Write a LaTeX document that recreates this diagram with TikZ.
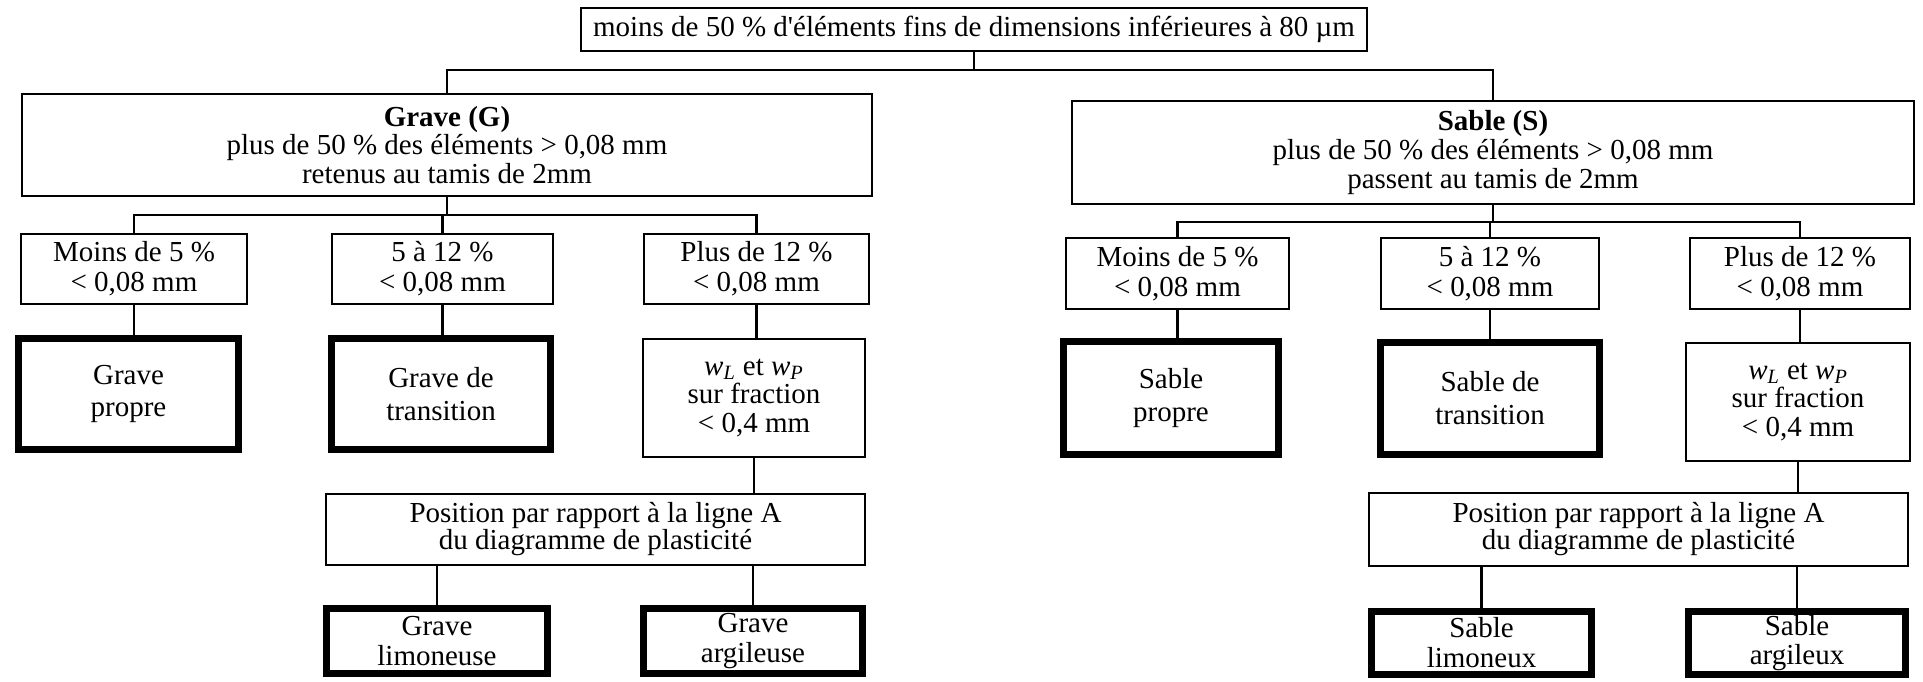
\documentclass[tikz,border=0pt]{standalone}
\usepackage{fontspec}
\setmainfont{Liberation Serif}
\begin{document}
\begin{tikzpicture}[x=0.02cm, y=-0.02cm,
  box/.style={draw, line width=1.3pt, align=center, inner sep=0pt,
              font=\fontsize{16.5}{16.4}\selectfont},
  tbox/.style={box, line width=4pt},
  sz/.style n args={2}{minimum width={(#1-2.3)*0.02cm}, minimum height={(#2-2.3)*0.02cm}},
  tsz/.style n args={2}{minimum width={(#1-7)*0.02cm}, minimum height={(#2-7)*0.02cm}},
  conn/.style={line width=1.2pt}]
\useasboundingbox (0,0) rectangle (1923,682);

% top
\node[box, sz={788}{45}] (top) at (974,29.5)
  {moins de 50 \% d\textquotesingle éléments fins de dimensions inférieures à 80 µm};

% level 1
\node[box, sz={852}{104}] (grave) at (447,145)
  {\textbf{Grave (G)}\\plus de 50 \% des éléments > 0,08 mm\\retenus au tamis de 2mm};
\node[box, sz={844}{105}] (sable) at (1493,152.5)
  {\textbf{Sable (S)}\\plus de 50 \% des éléments > 0,08 mm\\passent au tamis de 2mm};

% Grave children
\node[box, sz={228}{72}] (gm) at (134,269) {Moins de 5 \%\\[0.6pt]< 0,08 mm};
\node[box, sz={223}{72}] (gt) at (442.5,269) {5 à 12 \%\\[0.6pt]< 0,08 mm};
\node[box, sz={227}{72}] (gp) at (756.5,269) {Plus de 12 \%\\[0.6pt]< 0,08 mm};

\node[tbox, tsz={227}{118}] (gpr) at (128.5,394) {Grave\\[2.3pt]propre};
\node[tbox, tsz={226}{118}] (gtr) at (441,394) {Grave de\\[2.3pt]transition};
\node[box, sz={224}{120}] (gw) at (754,398)
  {\textit{w}\textsubscript{\textit{L}} et \textit{w}\textsubscript{\textit{P}}\\sur fraction\\< 0,4 mm};

\node[box, sz={541}{73}] (gpos) at (595.5,529.5)
  {Position par rapport à la ligne A\\[-1pt]du diagramme de plasticité};

\node[tbox, tsz={228}{72}] (glim) at (437,641) {Grave\\[0.6pt]limoneuse};
\node[tbox, tsz={226}{72}] (garg) at (753,641) {Grave\\[0.6pt]argileuse};

% Sable children
\node[box, sz={225}{73}] (sm) at (1177.5,273.5) {Moins de 5 \%\\[0.6pt]< 0,08 mm};
\node[box, sz={220}{73}] (st) at (1490,273.5) {5 à 12 \%\\[0.6pt]< 0,08 mm};
\node[box, sz={222}{73}] (sp) at (1800,273.5) {Plus de 12 \%\\[0.6pt]< 0,08 mm};

\node[tbox, tsz={222}{120}] (spr) at (1171,398) {Sable\\[2.3pt]propre};
\node[tbox, tsz={226}{119}] (str) at (1490,398.5) {Sable de\\[2.3pt]transition};
\node[box, sz={226}{120}] (sw) at (1798,402)
  {\textit{w}\textsubscript{\textit{L}} et \textit{w}\textsubscript{\textit{P}}\\sur fraction\\< 0,4 mm};

\node[box, sz={541}{75}] (spos) at (1638.5,529.5)
  {Position par rapport à la ligne A\\[-1pt]du diagramme de plasticité};

\node[tbox, tsz={227}{70}] (slim) at (1481.5,643) {Sable\\[0.6pt]limoneux};
\node[tbox, tsz={224}{70}] (sarg) at (1797,643) {Sable\\[0.6pt]argileux};

% connectors
\coordinate (b0) at (974,70);
\draw[conn] (top.south) -- (b0);
\draw[conn] (grave.north) |- (b0) -| (sable.north);

\coordinate (gb) at (447,215);
\draw[conn] (grave.south) -- (gb);
\draw[conn] (gm.north) |- (gb) -| (gp.north);
\draw[conn] (gt.north) -- (gt.north |- gb);
\draw[conn] (gm.south) -- (gm.south |- gpr.north);
\draw[conn] (gt.south) -- (gt.south |- gtr.north);
\draw[conn] (gp.south) -- (gp.south |- gw.north);
\draw[conn] (gw.south) -- (gw.south |- gpos.north);
\draw[conn] (glim.north) -- (glim.north |- gpos.south);
\draw[conn] (garg.north) -- (garg.north |- gpos.south);

\coordinate (sb) at (1493,222);
\draw[conn] (sable.south) -- (sb);
\draw[conn] (sm.north) |- (sb) -| (sp.north);
\draw[conn] (st.north) -- (st.north |- sb);
\draw[conn] (sm.south) -- (sm.south |- spr.north);
\draw[conn] (st.south) -- (st.south |- str.north);
\draw[conn] (sp.south) -- (sp.south |- sw.north);
\draw[conn] (sw.south) -- (sw.south |- spos.north);
\draw[conn] (slim.north) -- (slim.north |- spos.south);
\draw[conn] (sarg.north) -- (sarg.north |- spos.south);
\end{tikzpicture}
\end{document}
